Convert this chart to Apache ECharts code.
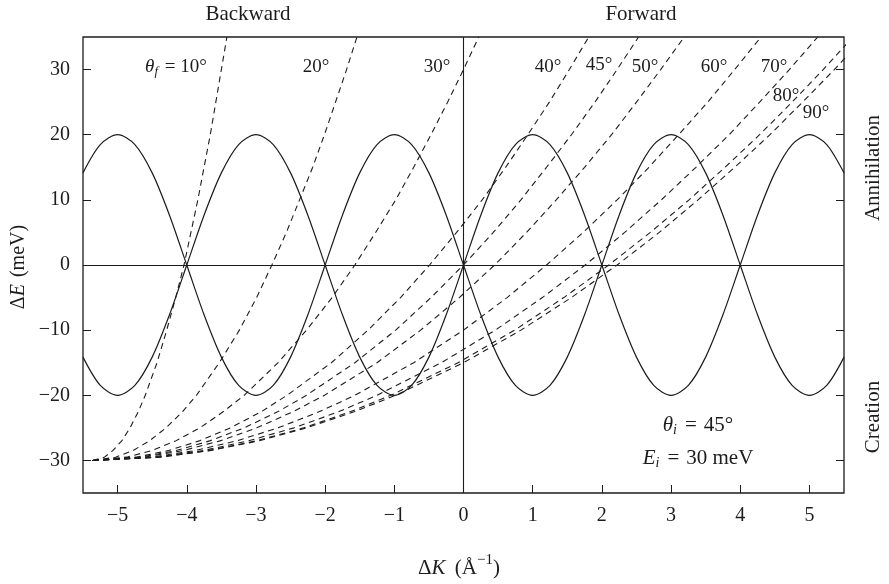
<!DOCTYPE html>
<html>
<head>
<meta charset="utf-8">
<script src="https://cdn.jsdelivr.net/npm/echarts@6/dist/echarts.min.js"></script>
<style>
  html, body { margin: 0; padding: 0; background: #fff; }
  #chart { width: 889px; height: 584px; }
</style>
</head>
<body>
<div id="chart"></div>
<script>
// Phonon dispersion sampled along ΔK (Å⁻¹), ΔE in meV
const phononK = [-5.5, -5.25, -5, -4.75, -4.5, -4.25, -4, -3.75, -3.5, -3.25, -3, -2.75, -2.5, -2.25, -2,
  -1.75, -1.5, -1.25, -1, -0.75, -0.5, -0.25, 0, 0.25, 0.5, 0.75, 1, 1.25, 1.5, 1.75, 2,
  2.25, 2.5, 2.75, 3, 3.25, 3.5, 3.75, 4, 4.25, 4.5, 4.75, 5, 5.25, 5.5];
const phononUpper = [-14.14, -18.48, -20, -18.48, -14.14, -7.65, 0, 7.65, 14.14, 18.48, 20, 18.48, 14.14, 7.65, 0,
  -7.65, -14.14, -18.48, -20, -18.48, -14.14, -7.65, 0, 7.65, 14.14, 18.48, 20, 18.48, 14.14, 7.65, 0,
  -7.65, -14.14, -18.48, -20, -18.48, -14.14, -7.65, 0, 7.65, 14.14, 18.48, 20, 18.48, 14.14];
const phononLower = [14.14, 18.48, 20, 18.48, 14.14, 7.65, 0, -7.65, -14.14, -18.48, -20, -18.48, -14.14, -7.65, 0,
  7.65, 14.14, 18.48, 20, 18.48, 14.14, 7.65, 0, -7.65, -14.14, -18.48, -20, -18.48, -14.14, -7.65, 0,
  7.65, 14.14, 18.48, 20, 18.48, 14.14, 7.65, 0, -7.65, -14.14, -18.48, -20, -18.48, -14.14];

// Scan curves: ΔK reached at each energy transfer, one array per final angle θf
const scanEnergy = [-30, -29.5, -28.5, -27, -25, -22.5, -20, -15, -10, -5, 0, 5, 10, 15, 20, 25, 30, 35];
const thetaF = [10, 20, 30, 40, 45, 50, 60, 70, 80, 90];
const scanK10 = [-5.36, -5.19, -5.07, -4.94, -4.82, -4.70, -4.60, -4.43, -4.29, -4.16, -4.04, -3.94, -3.84, -3.75, -3.66, -3.58, -3.50, -3.42];
const scanK20 = [-5.36, -5.03, -4.78, -4.54, -4.30, -4.06, -3.86, -3.53, -3.24, -2.99, -2.77, -2.56, -2.37, -2.18, -2.01, -1.85, -1.69, -1.54];
const scanK30 = [-5.36, -4.87, -4.51, -4.16, -3.81, -3.47, -3.17, -2.68, -2.27, -1.90, -1.57, -1.27, -0.98, -0.72, -0.47, -0.23, 0.00, 0.22];
const scanK40 = [-5.36, -4.73, -4.27, -3.82, -3.37, -2.92, -2.55, -1.91, -1.38, -0.91, -0.49, -0.10, 0.27, 0.61, 0.93, 1.24, 1.53, 1.81];
const scanK45 = [-5.36, -4.67, -4.16, -3.67, -3.17, -2.68, -2.27, -1.57, -0.98, -0.47, 0.00, 0.43, 0.83, 1.20, 1.56, 1.90, 2.22, 2.53];
const scanK50 = [-5.36, -4.61, -4.06, -3.52, -2.99, -2.46, -2.01, -1.25, -0.62, -0.06, 0.45, 0.91, 1.34, 1.75, 2.14, 2.50, 2.85, 3.19];
const scanK60 = [-5.36, -4.51, -3.89, -3.28, -2.68, -2.08, -1.57, -0.72, 0.00, 0.63, 1.20, 1.73, 2.22, 2.68, 3.11, 3.53, 3.92, 4.30];
const scanK70 = [-5.36, -4.44, -3.77, -3.11, -2.45, -1.80, -1.25, -0.32, 0.46, 1.14, 1.76, 2.33, 2.86, 3.36, 3.84, 4.28, 4.71, 5.12];
const scanK80 = [-5.36, -4.40, -3.69, -3.00, -2.31, -1.63, -1.05, -0.08, 0.74, 1.45, 2.10, 2.70, 3.26, 3.78, 4.28, 4.75, 5.20, 5.63];
const scanK90 = [-5.36, -4.38, -3.67, -2.96, -2.27, -1.57, -0.98, 0.00, 0.83, 1.56, 2.22, 2.83, 3.39, 3.92, 4.43, 4.90, 5.36, 5.80];
const scanKs = [scanK10, scanK20, scanK30, scanK40, scanK45, scanK50, scanK60, scanK70, scanK80, scanK90];

// Tick values
const kTicks = [-5, -4, -3, -2, -1, 0, 1, 2, 3, 4, 5];
const eTicks = [-30, -20, -10, 0, 10, 20, 30];

const INK = '#1c1c1c';
const FONT = "'Liberation Serif', 'DejaVu Serif', serif";
const BASE = 19;

const measureCtx = document.createElement('canvas').getContext('2d');

// Lay out a row of text runs (italic, sub/superscript) centred on (cx, cy)
function mathText(runs, cx, cy, rotation) {
  let w = 0;
  const parts = runs.map(r => {
    const size = r.size || BASE;
    const style = r.italic ? 'italic' : 'normal';
    measureCtx.font = style + ' ' + size + 'px ' + FONT;
    const tw = measureCtx.measureText(r.text).width;
    const p = { x: w + (r.pre || 0), text: r.text, size, style, dy: r.dy || 0 };
    w += (r.pre || 0) + tw + (r.gap || 0);
    return p;
  });
  return {
    type: 'group', x: cx, y: cy, rotation: rotation || 0, silent: true,
    children: parts.map(p => ({
      type: 'text', x: p.x - w / 2, y: p.dy,
      style: {
        text: p.text, fontFamily: FONT, fontSize: p.size, fontStyle: p.style,
        fill: INK, align: 'left', verticalAlign: 'middle'
      }
    }))
  };
}

const minus = v => String(v).replace('-', '\u2212');

const series = [
  {
    type: 'line', data: phononK.map((k, i) => [k, phononUpper[i]]),
    smooth: 0.3, symbol: 'none', lineStyle: { color: INK, width: 1.2 },
    markLine: {
      silent: true, symbol: 'none', label: { show: false },
      lineStyle: { color: INK, width: 1.1, type: 'solid' },
      emphasis: { disabled: true },
      data: [{ xAxis: 0 }, { yAxis: 0 }]
    }
  },
  {
    type: 'line', data: phononK.map((k, i) => [k, phononLower[i]]),
    smooth: 0.3, symbol: 'none', lineStyle: { color: INK, width: 1.2 }
  }
];
scanKs.forEach(ks => {
  series.push({
    type: 'line', data: scanEnergy.map((e, i) => [ks[i], e]),
    symbol: 'none',
    lineStyle: { color: INK, width: 1.1, type: [6, 4.5] }
  });
});

// Angle label anchors (pixels)
const anglePos = [[176, 67], [316, 67], [437, 67], [548, 67], [599, 65], [645, 67], [714, 67], [774, 67], [786, 96], [816, 113]];
const graphics = thetaF.map((t, i) => {
  const runs = i === 0
    ? [{ text: 'θ', italic: true }, { text: 'f', italic: true, size: 13, dy: 5, gap: 2 }, { text: ' = ' + t + '°' }]
    : [{ text: t + '°' }];
  return mathText(runs, anglePos[i][0], anglePos[i][1]);
});
const TITLE = 21;
graphics.push(
  mathText([{ text: 'Backward', size: TITLE }], 248, 14),
  mathText([{ text: 'Forward', size: TITLE }], 641, 14),
  mathText([{ text: 'Annihilation', size: TITLE }], 873, 168, Math.PI / 2),
  mathText([{ text: 'Creation', size: TITLE }], 873, 417, Math.PI / 2),
  mathText([{ text: 'Δ', size: 20 }, { text: 'E', italic: true, size: 20 }, { text: ' (meV)', size: 20, pre: 2 }], 19, 267, Math.PI / 2),
  mathText([{ text: 'Δ', size: 21 }, { text: 'K', italic: true, size: 21 }, { text: ' (Å', size: 21, pre: 4 },
    { text: '\u22121', size: 15, dy: -8 }, { text: ')', size: 21 }], 459, 568),
  mathText([{ text: 'θ', italic: true, size: 21 }, { text: 'i', italic: true, size: 14, dy: 5, gap: 1 },
    { text: '=', size: 21, pre: 7, gap: 7 }, { text: '45°', size: 21 }], 698, 425),
  mathText([{ text: 'E', italic: true, size: 21 }, { text: 'i', italic: true, size: 14, dy: 5, gap: 1 },
    { text: '=', size: 21, pre: 7, gap: 7 }, { text: '30 meV', size: 21 }], 698, 458)
);

const tickStyle = { inside: true, length: 8, lineStyle: { color: INK, width: 1 } };

const chart = echarts.init(document.getElementById('chart'), null, { renderer: 'canvas' });
chart.setOption({
  animation: false,
  backgroundColor: '#fff',
  grid: { left: 83, right: 45, top: 37, bottom: 91, show: true, borderColor: INK, borderWidth: 1.3, containLabel: false },
  xAxis: {
    type: 'value', min: -5.5, max: 5.5, position: 'bottom',
    axisLine: { show: false, onZero: false }, splitLine: { show: false },
    axisTick: Object.assign({ customValues: kTicks }, tickStyle),
    axisLabel: { customValues: kTicks, formatter: minus, fontFamily: FONT, fontSize: 20, color: INK, margin: 13 }
  },
  yAxis: [
    {
      type: 'value', min: -35, max: 35, position: 'left',
      axisLine: { show: false, onZero: false }, splitLine: { show: false },
      axisTick: Object.assign({ customValues: eTicks }, tickStyle),
      axisLabel: { customValues: eTicks, formatter: minus, fontFamily: FONT, fontSize: 20, color: INK, margin: 13 }
    },
    {
      type: 'value', min: -35, max: 35, position: 'right',
      axisLine: { show: false, onZero: false }, splitLine: { show: false },
      axisTick: Object.assign({ customValues: eTicks }, tickStyle),
      axisLabel: { show: false }
    }
  ],
  series: series,
  graphic: graphics
});
</script>
</body>
</html>
